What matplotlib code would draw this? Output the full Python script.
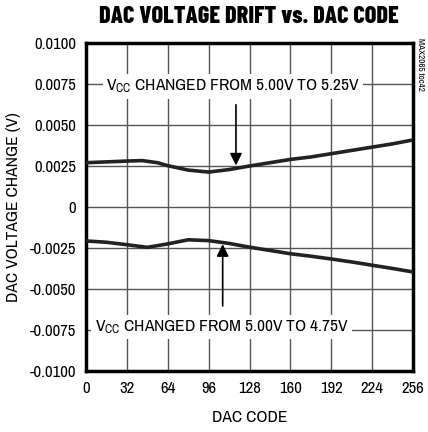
import matplotlib
matplotlib.use("Agg")
import matplotlib.pyplot as plt

# DAC code vs drift
codes = [0, 16, 32, 44, 56, 64, 80, 96, 112, 128, 144, 160, 176, 192, 208, 224, 240, 256]
drift_up = [0.00270, 0.00275, 0.00280, 0.00283, 0.00270, 0.00252, 0.00225, 0.00213, 0.00228,
            0.00250, 0.00270, 0.00290, 0.00305, 0.00325, 0.00345, 0.00365, 0.00385, 0.00409]
codes_dn = [0, 16, 32, 48, 64, 80, 96, 112, 128, 144, 160, 176, 192, 208, 224, 240, 256]
drift_dn = [-0.00207, -0.00215, -0.00230, -0.00246, -0.00225, -0.00200, -0.00205, -0.00222,
            -0.00245, -0.00265, -0.00285, -0.00300, -0.00317, -0.00335, -0.00355, -0.00375, -0.00396]

x_ticks = [0, 32, 64, 96, 128, 160, 192, 224, 256]
y_ticks = [-0.01, -0.0075, -0.005, -0.0025, 0, 0.0025, 0.005, 0.0075, 0.01]
y_labels = ["-0.0100", "-0.0075", "-0.0050", "-0.0025", "0", "0.0025", "0.0050", "0.0075", "0.0100"]

plt.rcParams["font.family"] = ["Archivo Narrow", "Liberation Sans", "DejaVu Sans"]
plt.rcParams["mathtext.default"] = "regular"

fig = plt.figure(figsize=(4.28, 4.32), dpi=100)
ax = fig.add_axes([0.2009, 0.1412, 0.7641, 0.7593])

ax.set_xlim(0, 256)
ax.set_ylim(-0.01, 0.01)
ax.set_xticks(x_ticks)
ax.set_yticks(y_ticks)
ax.set_yticklabels(y_labels)
ax.tick_params(length=0, labelsize=12, pad=7, colors="black")
ax.grid(True, color="#555555", linewidth=1.0)
ax.set_axisbelow(True)
for s in ax.spines.values():
    s.set_linewidth(2.5)

ax.plot(codes, drift_up, color="#222222", linewidth=2.6, zorder=3)
ax.plot(codes_dn, drift_dn, color="#222222", linewidth=2.6, zorder=3)

# labels sit on the +/-0.0075 gridlines, white box cuts the grid
box = dict(facecolor="white", edgecolor="none", pad=2.5)
ax.text(115, 0.0071, "V$_{CC}$ CHANGED FROM 5.00V TO 5.25V", ha="center", va="baseline",
        fontsize=12.5, zorder=5, bbox=box)
ax.text(106, -0.00756, "V$_{CC}$ CHANGED FROM 5.00V TO 4.75V", ha="center", va="baseline",
        fontsize=12.5, zorder=5, bbox=box)

ax.annotate("", xy=(117.4, 0.00236), xytext=(117.4, 0.0064),
            arrowprops=dict(arrowstyle="-|>", color="black", lw=1.2, mutation_scale=18), zorder=6)
ax.annotate("", xy=(107, -0.00210), xytext=(107, -0.0062),
            arrowprops=dict(arrowstyle="-|>", color="black", lw=1.2, mutation_scale=18), zorder=6)

ax.set_xlabel("DAC CODE", fontsize=12.5, labelpad=10)
ax.set_ylabel("DAC VOLTAGE CHANGE (V)", fontsize=12.5, labelpad=6)

fig.text(0.582, 0.961, "DAC VOLTAGE DRIFT vs. DAC CODE", ha="center", va="center",
         fontsize=17.5, fontweight="heavy", family=["Barlow Condensed", "DejaVu Sans"])
fig.text(0.982, 0.85, "MAX2065 toc42", rotation=270, ha="center", va="center", fontsize=6.5)

fig.savefig("out.png", dpi=100)
